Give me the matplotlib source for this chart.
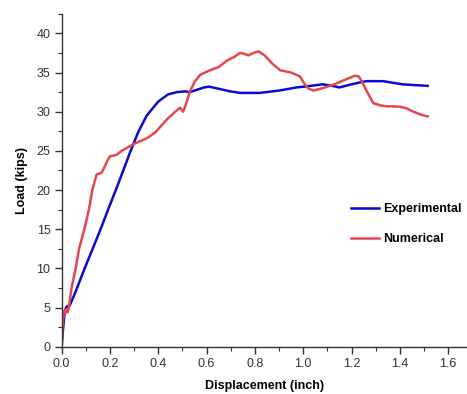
import matplotlib
matplotlib.use("Agg")
import matplotlib.pyplot as plt
from matplotlib.ticker import MultipleLocator

plt.rcParams['font.family'] = ['Liberation Sans', 'DejaVu Sans']

# Experimental curve
exp_x = [0.0, 0.005, 0.012, 0.018, 0.025, 0.034, 0.055, 0.094, 0.135, 0.165, 0.196,
         0.228, 0.255, 0.283, 0.317, 0.352, 0.40, 0.44, 0.476, 0.51, 0.53, 0.56,
         0.59, 0.61, 0.64, 0.697, 0.74, 0.82, 0.90, 0.973, 1.03, 1.08, 1.12, 1.15,
         1.20, 1.26, 1.33, 1.41, 1.46, 1.515]
exp_y = [0.0, 2.0, 4.2, 5.0, 5.2, 5.3, 6.8, 9.9, 13.0, 15.3, 17.8,
         20.3, 22.5, 24.8, 27.4, 29.5, 31.3, 32.2, 32.5, 32.6, 32.5, 32.8,
         33.1, 33.2, 33.0, 32.6, 32.4, 32.4, 32.7, 33.1, 33.3, 33.5, 33.3, 33.1,
         33.5, 33.9, 33.9, 33.5, 33.4, 33.3]

# Numerical curve
num_x = [0.0, 0.003, 0.01, 0.016, 0.02, 0.025, 0.03, 0.041, 0.058, 0.072, 0.094,
         0.113, 0.127, 0.145, 0.155, 0.165, 0.172, 0.19, 0.20, 0.228, 0.248, 0.30,
         0.352, 0.386, 0.435, 0.47, 0.49, 0.503, 0.515, 0.53, 0.55, 0.573, 0.614,
         0.65, 0.683, 0.715, 0.738, 0.755, 0.773, 0.795, 0.814, 0.84, 0.87, 0.904,
         0.95, 0.987, 1.0, 1.02, 1.042, 1.08, 1.12, 1.152, 1.19, 1.214, 1.23,
         1.242, 1.265, 1.29, 1.32, 1.345, 1.40, 1.43, 1.456, 1.49, 1.515]
num_y = [0.0, 2.5, 4.6, 4.3, 4.8, 4.4, 5.0, 7.5, 10.0, 12.5, 15.0,
         17.5, 20.0, 22.0, 22.1, 22.2, 22.6, 23.8, 24.3, 24.5, 25.0, 25.9,
         26.6, 27.3, 29.0, 30.0, 30.5, 30.0, 31.0, 32.5, 33.8, 34.7, 35.3,
         35.7, 36.5, 37.0, 37.5, 37.4, 37.2, 37.5, 37.7, 37.2, 36.2, 35.3,
         35.0, 34.5, 33.8, 33.0, 32.7, 33.0, 33.4, 33.8, 34.3, 34.6, 34.5,
         33.9, 32.5, 31.1, 30.8, 30.7, 30.65, 30.4, 30.0, 29.6, 29.4]

xticks = [0.0, 0.2, 0.4, 0.6, 0.8, 1.0, 1.2, 1.4, 1.6]
yticks = [0, 5, 10, 15, 20, 25, 30, 35, 40]

fig = plt.figure(figsize=(4.67, 3.94), dpi=100)
ax = fig.add_axes([0.132, 0.12, 0.868, 0.845])

ax.plot(exp_x, exp_y, color='#0a0ad6', lw=1.8, label='Experimental')
ax.plot(num_x, num_y, color='#e5474c', lw=1.8, label='Numerical')

ax.set_xlim(0, 1.678)
ax.set_ylim(0, 42.5)
ax.set_xticks(xticks)
ax.set_xticklabels([f"{v:.1f}" for v in xticks])
ax.set_yticks(yticks)
ax.xaxis.set_minor_locator(MultipleLocator(0.1))
ax.yaxis.set_minor_locator(MultipleLocator(2.5))

for s in ['top', 'right']:
    ax.spines[s].set_visible(False)
for s in ['left', 'bottom']:
    ax.spines[s].set_linewidth(1.0)
    ax.spines[s].set_color('#333333')

ax.tick_params(axis='both', which='major', direction='out', length=5, width=1.0,
               colors='#333333', labelsize=9, labelcolor='#333333', pad=3)
ax.tick_params(axis='both', which='minor', direction='out', length=3, width=0.8,
               colors='#333333')

ax.set_xlabel('Displacement (inch)', fontsize=9, fontweight='bold', labelpad=7.5)
ax.set_ylabel('Load (kips)', fontsize=9, fontweight='bold', labelpad=6)

leg = ax.legend(loc='upper left', bbox_to_anchor=(0.685, 0.464), frameon=False,
                handlelength=2.3, handletextpad=0.3, labelspacing=1.4,
                prop={'weight': 'bold', 'size': 9})

fig.savefig('out.png', dpi=100)
